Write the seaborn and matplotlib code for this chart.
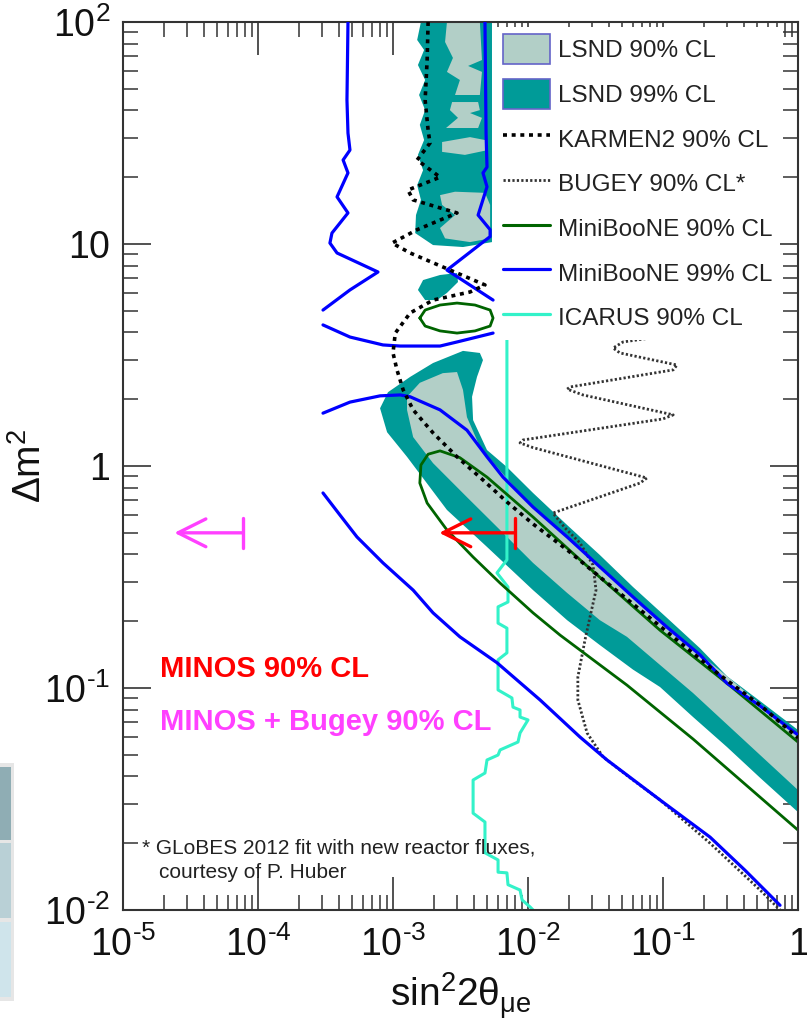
import matplotlib
matplotlib.use('Agg')
import matplotlib.pyplot as plt
import seaborn as sns
from matplotlib.patches import Patch, Rectangle
from matplotlib.lines import Line2D
from matplotlib.ticker import FixedLocator, FixedFormatter, LogLocator, NullFormatter

# ---------------- data (sin^2 2theta, dm^2) ----------------
# LSND 99% CL regions
lsnd99_top_x = [1.61e-3, 1.51e-3, 1.70e-3, 1.53e-3, 1.73e-3, 1.56e-3, 1.73e-3, 1.58e-3, 1.70e-3, 1.53e-3,
                1.67e-3, 1.51e-3, 1.61e-3, 1.48e-3, 1.46e-3, 1.98e-3, 3.30e-3, 5.41e-3, 5.41e-3]
lsnd99_top_y = [100, 83.0, 74.8, 64.0, 54.8, 46.9, 40.1, 34.4, 29.4, 25.2,
                21.5, 18.4, 15.8, 13.5, 11.2, 9.89, 9.69, 10.2, 100]
lsnd99_mid_x = [2.98e-3, 2.23e-3, 1.67e-3, 1.53e-3, 1.73e-3, 2.12e-3, 2.51e-3, 3.03e-3]
lsnd99_mid_y = [7.40, 7.25, 6.88, 6.21, 5.59, 5.59, 6.02, 6.74]
lsnd99_main_x = [8.02e-4, 9.18e-4, 1.34e-3, 1.98e-3, 3.30e-3, 4.40e-3, 4.64e-3, 4.19e-3, 3.85e-3, 3.92e-3,
                 4.97e-3, 6.98e-3, 1.09e-2, 1.95e-2, 3.41e-2, 6.00e-2, 0.107, 0.188, 0.298, 0.524, 1.0,
                 1.0, 0.524, 0.298, 0.167, 9.51e-2, 6.00e-2, 3.41e-2, 1.95e-2, 1.09e-2, 4.97e-3, 2.51e-3,
                 1.27e-3, 9.04e-4]
lsnd99_main_y = [1.82, 2.15, 2.52, 2.91, 3.30, 3.23, 3.00, 2.52, 2.05, 1.61,
                 1.18, 0.989, 0.756, 0.542, 0.397, 0.285, 0.207, 0.151, 0.113, 0.0873, 0.0647,
                 0.0276, 0.0394, 0.0542, 0.0740, 0.101, 0.121, 0.156, 0.202, 0.276, 0.432, 0.634,
                 1.10, 1.42]

# LSND 90% CL regions
lsnd90_u1_x = [2.51e-3, 4.40e-3, 4.56e-3, 3.60e-3, 4.56e-3, 4.40e-3, 2.88e-3, 3.13e-3, 2.51e-3, 2.78e-3, 2.43e-3]
lsnd90_u1_y = [100, 100, 67.4, 63.4, 59.6, 46.9, 46.9, 54.8, 59.6, 68.9, 81.3]
lsnd90_u2_x = [2.74e-3, 4.27e-3, 4.40e-3, 3.72e-3, 4.56e-3, 4.27e-3, 2.47e-3, 3.03e-3, 2.64e-3]
lsnd90_u2_y = [43.6, 43.6, 40.1, 38.9, 37.0, 33.3, 33.3, 37.0, 40.1]
lsnd90_u3_x = [2.31e-3, 3.72e-3, 4.80e-3, 5.06e-3, 3.41e-3, 2.31e-3]
lsnd90_u3_y = [28.8, 30.3, 29.4, 26.5, 25.2, 26.0]
lsnd90_u4_x = [2.23e-3, 2.88e-3, 4.80e-3, 5.24e-3, 5.24e-3, 3.72e-3, 2.43e-3, 2.23e-3, 2.88e-3, 2.31e-3]
lsnd90_u4_y = [16.6, 17.2, 17.0, 15.0, 10.6, 10.2, 10.6, 11.8, 13.5, 15.0]
lsnd90_main_x = [1.27e-3, 1.58e-3, 2.34e-3, 2.98e-3, 3.30e-3, 3.53e-3, 4.40e-3, 6.53e-3, 1.09e-2, 2.55e-2,
                 6.00e-2, 9.51e-2, 0.298, 1.0, 1.0, 0.167, 5.41e-2, 3.41e-2, 1.95e-2, 1.09e-2,
                 6.21e-3, 3.53e-3, 1.98e-3, 1.41e-3, 1.27e-3]
lsnd90_main_y = [2.05, 2.37, 2.62, 2.65, 2.20, 1.66, 1.22, 0.920, 0.647, 0.414,
                 0.254, 0.198, 0.113, 0.0608, 0.0347, 0.0949, 0.170, 0.202, 0.268, 0.366,
                 0.515, 0.724, 1.03, 1.35, 1.79]

# KARMEN2 90% CL
karmen_x = [1.82e-3, 1.79e-3, 1.73e-3, 1.82e-3, 1.88e-3, 1.51e-3, 2.23e-3, 1.29e-3, 1.41e-3, 2.98e-3,
            1.51e-3, 9.84e-4, 1.34e-3, 2.34e-3, 4.80e-3, 3.72e-3, 1.98e-3, 1.34e-3, 1.04e-3, 1.00e-3,
            1.07e-3, 1.19e-3, 1.41e-3, 1.98e-3, 2.98e-3, 4.64e-3, 6.98e-3, 1.09e-2, 1.95e-2, 3.41e-2,
            6.00e-2, 0.107, 0.251, 0.524, 1.0]
karmen_y = [100, 67.4, 44.5, 32.6, 28.5, 23.9, 20.0, 17.5, 15.8, 13.8,
            11.6, 10.1, 9.11, 7.88, 6.54, 6.08, 5.59, 4.89, 3.97, 3.23,
            2.71, 2.20, 1.79, 1.41, 1.10, 0.865, 0.689, 0.548, 0.419, 0.316,
            0.239, 0.179, 0.117, 0.0838, 0.0596]

# BUGEY 90% CL*
bugey_x = [8.02e-2, 5.06e-2, 4.27e-2, 4.80e-2, 0.127, 0.119, 2.05e-2, 1.95e-2, 2.55e-2, 0.119,
           0.100, 9.18e-3, 8.73e-3, 1.09e-2, 7.60e-2, 6.76e-2, 1.53e-2, 1.88e-2, 2.43e-2, 3.03e-2,
           3.19e-2, 2.88e-2, 2.64e-2, 2.34e-2, 2.34e-2, 2.74e-2, 3.60e-2, 5.70e-2, 9.51e-2, 0.223,
           0.524, 0.736]
bugey_y = [3.77, 3.62, 3.40, 3.23, 2.85, 2.71, 2.27, 2.22, 2.09, 1.70,
           1.63, 1.31, 1.27, 1.21, 0.883, 0.838, 0.614, 0.526, 0.450, 0.358,
           0.276, 0.209, 0.164, 0.112, 0.0883, 0.0627, 0.0489, 0.0394, 0.0313, 0.0200,
           0.0123, 0.0100]

# MiniBooNE 90% CL
mb90_ell_x = [1.58e-3, 1.73e-3, 2.23e-3, 2.98e-3, 4.05e-3, 5.24e-3, 5.51e-3, 5.24e-3, 4.05e-3, 2.98e-3,
              2.23e-3, 1.73e-3, 1.58e-3]
mb90_ell_y = [4.64, 5.04, 5.31, 5.42, 5.31, 5.04, 4.64, 4.27, 4.06, 3.97, 4.06, 4.27, 4.64]
mb90_x = [1.0, 0.298, 9.51e-2, 2.43e-2, 1.09e-2, 4.97e-3, 3.13e-3, 2.23e-3, 1.82e-3, 1.61e-3,
          1.58e-3, 1.79e-3, 2.51e-3, 3.92e-3, 6.21e-3, 1.09e-2, 1.73e-2, 5.41e-2, 0.167, 1.0]
mb90_y = [0.0571, 0.105, 0.182, 0.378, 0.589, 0.891, 1.09, 1.17, 1.13, 1.01,
          0.838, 0.681, 0.515, 0.389, 0.297, 0.218, 0.173, 0.103, 0.0589, 0.0229]

# MiniBooNE 99% CL
mb99_a_x = [4.64e-4, 4.56e-4, 4.64e-4, 4.80e-4, 4.27e-4, 4.64e-4, 3.85e-4, 4.64e-4, 3.53e-4, 3.41e-4,
            3.85e-4, 7.74e-4, 4.80e-4, 3.03e-4]
mb99_a_y = [100, 44.5, 31.6, 26.5, 23.9, 20.9, 16.3, 13.8, 11.2, 10.1,
            9.11, 7.48, 6.21, 5.04]
mb99_arc_x = [3.03e-4, 4.80e-4, 8.43e-4, 1.13e-3, 2.23e-3, 2.98e-3, 5.51e-3]
mb99_arc_y = [4.32, 3.81, 3.51, 3.47, 3.47, 3.62, 3.97]
mb99_b_x = [4.80e-3, 4.89e-3, 4.97e-3, 4.64e-3, 4.97e-3, 4.27e-3, 5.24e-3, 5.24e-3, 2.51e-3, 5.51e-3]
mb99_b_y = [100, 31.6, 22.2, 20.9, 18.1, 13.5, 11.6, 10.8, 7.63, 5.59]
mb99_c_x = [3.03e-4, 4.80e-4, 8.02e-4, 1.13e-3, 1.34e-3, 2.23e-3, 3.53e-3, 4.97e-3, 6.53e-3, 1.09e-2,
            1.95e-2, 3.41e-2, 6.00e-2, 0.107, 0.188, 0.298, 0.524, 1.0]
mb99_c_y = [1.73, 1.94, 2.07, 2.09, 2.05, 1.79, 1.45, 1.10, 0.891, 0.653,
            0.479, 0.351, 0.257, 0.188, 0.141, 0.105, 0.0830, 0.0614]
mb99_d_x = [3.03e-4, 4.05e-4, 5.41e-4, 8.43e-4, 1.41e-3, 1.98e-3, 3.13e-3, 5.89e-3, 1.23e-2, 2.43e-2,
            3.85e-2, 9.51e-2, 0.223, 0.405, 0.736]
mb99_d_y = [0.756, 0.601, 0.479, 0.366, 0.276, 0.218, 0.170, 0.130, 0.0883, 0.0601,
            0.0474, 0.0313, 0.0213, 0.0151, 0.0105]

# ICARUS 90% CL
icarus_x = [6.98e-3, 6.98e-3, 5.89e-3, 7.11e-3, 7.11e-3, 6.00e-3, 6.00e-3, 6.98e-3, 6.98e-3, 6.00e-3,
            6.00e-3, 7.60e-3, 7.74e-3, 8.73e-3, 8.73e-3, 1.00e-2, 8.73e-3, 8.43e-3, 6.21e-3, 6.00e-3,
            4.97e-3, 4.80e-3, 3.92e-3, 3.92e-3, 4.80e-3, 4.80e-3, 6.00e-3, 6.00e-3, 6.98e-3, 7.11e-3,
            8.73e-3, 9.04e-3, 1.04e-2, 1.09e-2]
icarus_y = [3.70, 0.378, 0.330, 0.285, 0.244, 0.232, 0.196, 0.186, 0.144, 0.134,
            0.0980, 0.0902, 0.0820, 0.0796, 0.0740, 0.0718, 0.0627, 0.0571, 0.0526, 0.0499,
            0.0474, 0.0414, 0.0385, 0.0273, 0.0249, 0.0181, 0.0168, 0.0148, 0.0147, 0.0130,
            0.0123, 0.0111, 0.0103, 0.0100]

# MINOS limits at dm^2 = 0.5
minos_dm2 = 0.5
minos_limit = 8.0e-3
minos_tip = 2.2e-3
minos_bugey_limit = 7.7e-5
minos_bugey_tip = 2.4e-5

legend_labels = ['LSND 90% CL', 'LSND 99% CL', 'KARMEN2 90% CL', 'BUGEY 90% CL*',
                 'MiniBooNE 90% CL', 'MiniBooNE 99% CL', 'ICARUS 90% CL']
xtick_vals = [1e-5, 1e-4, 1e-3, 1e-2, 1e-1, 1]
xtick_text = [r'$10^{\text{-}5}$', r'$10^{\text{-}4}$', r'$10^{\text{-}3}$', r'$10^{\text{-}2}$',
              r'$10^{\text{-}1}$', '$1$']
ytick_vals = [1e-2, 1e-1, 1, 10, 100]
ytick_text = [r'$10^{\text{-}2}$', r'$10^{\text{-}1}$', '$1$', '$10$', '$10^{2}$']

# ---------------- style ----------------
LIGHT = '#b2cfc7'
TEAL = '#009b98'
BLUE = '#0000ff'
GREEN = '#006400'
CYAN = '#33f2c9'
RED = '#ff0000'
MAGENTA = '#ff40ff'

sns.set_theme(style='white')
plt.rcParams['font.family'] = ['Liberation Sans', 'DejaVu Sans']
plt.rcParams['mathtext.fontset'] = 'custom'
plt.rcParams['mathtext.rm'] = 'Liberation Sans'
plt.rcParams['mathtext.it'] = 'Liberation Sans:italic'
plt.rcParams['mathtext.bf'] = 'Liberation Sans:bold'

fig = plt.figure(figsize=(8.07, 10.33), dpi=100)
fig.patch.set_facecolor('white')
ax = fig.add_axes([123 / 807, 1 - 910 / 1033, 675 / 807, 888 / 1033])
ax.set_xscale('log')
ax.set_yscale('log')
ax.set_xlim(1e-5, 1)
ax.set_ylim(1e-2, 1e2)

# slide table fragment at the left edge
fig.patches.append(Rectangle((0, 1 - 1001 / 1033), 14 / 807, 238 / 1033, transform=fig.transFigure,
                             facecolor='#e6e6e6', edgecolor='none', zorder=0))
for top, bot, col in [(767, 840, '#8fadb4'), (843, 918, '#b9d0d6'), (922, 997, '#cfe4eb')]:
    fig.patches.append(Rectangle((0, 1 - bot / 1033), 11 / 807, (bot - top) / 1033,
                                 transform=fig.transFigure, facecolor=col, edgecolor='none', zorder=1))

# LSND fills
for xs, ys in [(lsnd99_top_x, lsnd99_top_y), (lsnd99_mid_x, lsnd99_mid_y), (lsnd99_main_x, lsnd99_main_y)]:
    ax.fill(xs, ys, color=TEAL, lw=0, zorder=1)
for xs, ys in [(lsnd90_u1_x, lsnd90_u1_y), (lsnd90_u2_x, lsnd90_u2_y), (lsnd90_u3_x, lsnd90_u3_y),
               (lsnd90_u4_x, lsnd90_u4_y), (lsnd90_main_x, lsnd90_main_y)]:
    ax.fill(xs, ys, color=LIGHT, lw=0, zorder=1.5)

# contours
BUGEY_LS = (0, (0.8, 0.8))
KARMEN_LS = (0, (1.1, 1.3))
ax.plot(bugey_x, bugey_y, color='#333333', lw=2.0, ls=BUGEY_LS, zorder=2)
ax.plot(icarus_x, icarus_y, color=CYAN, lw=2.2, zorder=2.2)
ax.plot(mb90_ell_x, mb90_ell_y, color=GREEN, lw=2.0, zorder=2.4)
ax.plot(mb90_x, mb90_y, color=GREEN, lw=2.0, zorder=2.4)
for xs, ys in [(mb99_a_x, mb99_a_y), (mb99_arc_x, mb99_arc_y), (mb99_b_x, mb99_b_y),
               (mb99_c_x, mb99_c_y), (mb99_d_x, mb99_d_y)]:
    ax.plot(xs, ys, color=BLUE, lw=2.3, zorder=2.6)
ax.plot(karmen_x, karmen_y, color='black', lw=2.6, ls=KARMEN_LS, zorder=2.8)

# MINOS limits
for lim, tip, col in [(minos_limit, minos_tip, RED), (minos_bugey_limit, minos_bugey_tip, MAGENTA)]:
    ax.annotate('', xy=(tip, minos_dm2), xytext=(lim, minos_dm2),
                arrowprops=dict(arrowstyle=']->, widthA=0.216, lengthA=0', color=col, lw=2.4,
                                shrinkA=0, shrinkB=0, mutation_scale=50), zorder=4)

ax.text(0.055, 0.262, 'MINOS 90% CL', transform=ax.transAxes, color=RED, fontsize=21,
        fontweight='bold', va='baseline')
ax.text(0.055, 0.203, 'MINOS + Bugey 90% CL', transform=ax.transAxes, color=MAGENTA, fontsize=21,
        fontweight='bold', va='baseline')
ax.text(0.028, 0.064, '* GLoBES 2012 fit with new reactor fluxes,', transform=ax.transAxes,
        color='#222222', fontsize=15, va='baseline')
ax.text(0.053, 0.036, 'courtesy of P. Huber', transform=ax.transAxes,
        color='#222222', fontsize=15, va='baseline')

# axes, ticks
for s in ax.spines.values():
    s.set_color('#333333')
    s.set_linewidth(1.5)
ax.xaxis.set_major_locator(FixedLocator(xtick_vals))
ax.xaxis.set_major_formatter(FixedFormatter(xtick_text))
ax.yaxis.set_major_locator(FixedLocator(ytick_vals))
ax.yaxis.set_major_formatter(FixedFormatter(ytick_text))
ax.xaxis.set_minor_locator(LogLocator(base=10, subs=range(2, 10), numticks=20))
ax.yaxis.set_minor_locator(LogLocator(base=10, subs=range(2, 10), numticks=20))
ax.xaxis.set_minor_formatter(NullFormatter())
ax.yaxis.set_minor_formatter(NullFormatter())
ax.tick_params(which='both', direction='in', top=True, right=True, bottom=True, left=True,
               color='#333333')
ax.tick_params(axis='x', which='major', length=24, width=1.2)
ax.tick_params(axis='y', which='major', length=20, width=1.2)
ax.tick_params(which='major', labelsize=27, labelcolor='#111111')
ax.tick_params(which='minor', length=11, width=1.1)
ax.tick_params(axis='x', which='major', pad=12)
ax.tick_params(axis='y', which='major', pad=9)

ax.set_xlabel(r'sin$^{2}$2θ$_{\mathregular{μe}}$', fontsize=28, color='#111111')
ax.xaxis.set_label_coords(0.50, -0.068)
ax.set_ylabel(r'Δm$^{2}$', fontsize=28, color='#111111')
ax.yaxis.set_label_coords(-0.11, 0.5)

handles = [Patch(facecolor=LIGHT, edgecolor='#6464c8', lw=1.2),
           Patch(facecolor=TEAL, edgecolor='#6464c8', lw=1.2),
           Line2D([], [], color='black', lw=2.6, ls=KARMEN_LS),
           Line2D([], [], color='#333333', lw=2.0, ls=BUGEY_LS),
           Line2D([], [], color=GREEN, lw=2.2),
           Line2D([], [], color=BLUE, lw=2.3),
           Line2D([], [], color=CYAN, lw=2.3)]
leg = ax.legend(handles, legend_labels, loc='upper left', bbox_to_anchor=(496 / 807, 1 - 27 / 1033),
                bbox_transform=fig.transFigure, fontsize=17.5, handlelength=1.93, handleheight=1.5,
                labelspacing=0.62, handletextpad=0.33, borderpad=0.3, borderaxespad=0,
                frameon=True, fancybox=False, edgecolor='none', facecolor='white', framealpha=1)
for t in leg.get_texts():
    t.set_color('#222222')

fig.savefig('out.png', dpi=100)
